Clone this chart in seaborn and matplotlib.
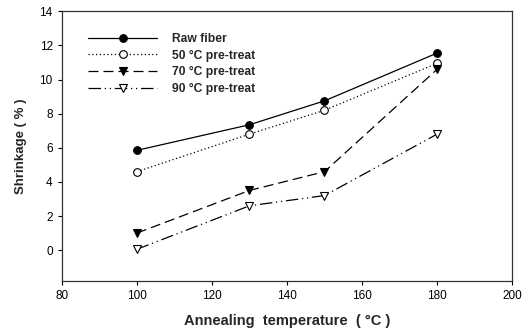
import pandas as pd
import numpy as np
import matplotlib.pyplot as plt
import seaborn as sns

temps = [100, 130, 150, 180]
raw_fiber = [5.85, 7.35, 8.75, 11.55]
pre_50 = [4.6, 6.8, 8.2, 10.95]
pre_70 = [1.0, 3.5, 4.6, 10.6]
pre_90 = [0.05, 2.6, 3.2, 6.8]

labels = ["Raw fiber", "50 \u00b0C pre-treat", "70 \u00b0C pre-treat", "90 \u00b0C pre-treat"]
x_ticks = [80, 100, 120, 140, 160, 180, 200]
y_ticks = [0, 2, 4, 6, 8, 10, 12, 14]


def main():
    sns.set_style("ticks")
    plt.rcParams['font.family'] = ['Liberation Sans', 'DejaVu Sans']

    df = pd.DataFrame({
        "temp": temps * 4,
        "shrink": raw_fiber + pre_50 + pre_70 + pre_90,
        "series": np.repeat(labels, len(temps)),
    })

    styles = [
        ("-", "o", "black"),
        ((0, (1, 2)), "o", "white"),
        ((0, (8, 4)), "v", "black"),
        ((0, (10, 3, 1, 3, 1, 3)), "v", "white"),
    ]

    fig = plt.figure(figsize=(5.28, 3.32), dpi=100)
    ax = fig.add_axes([0.117, 0.154, 0.853, 0.812])

    for lab, (ls, mk, fc) in zip(labels, styles):
        sub = df[df["series"] == lab]
        sns.lineplot(data=sub, x="temp", y="shrink", ax=ax, color="black",
                     linestyle=ls, linewidth=0.9, marker=mk, markersize=5.5,
                     markerfacecolor=fc, markeredgecolor="black",
                     markeredgewidth=0.8, label=lab)

    ax.set_xlim(80, 200)
    ax.set_ylim(-1.8, 14)
    ax.set_xticks(x_ticks)
    ax.set_yticks(y_ticks)
    ax.tick_params(direction="out", length=3, width=0.8, labelsize=8.5, colors="black")
    for s in ax.spines.values():
        s.set_visible(True)
        s.set_linewidth(0.9)
        s.set_color("#333333")

    ax.set_xlabel("Annealing  temperature  ( \u00b0C )", fontsize=10.5, fontweight="bold", labelpad=9)
    ax.set_ylabel("Shrinkage ( % )", fontsize=9.5, fontweight="bold", labelpad=9)

    ax.legend(loc="upper left", frameon=False, bbox_to_anchor=(0.035, 0.96),
              handlelength=5.7, handletextpad=1.2, labelspacing=0.38,
              prop={"size": 8.7, "weight": "bold"})

    fig.savefig("out.png", dpi=100)


if __name__ == "__main__":
    main()
